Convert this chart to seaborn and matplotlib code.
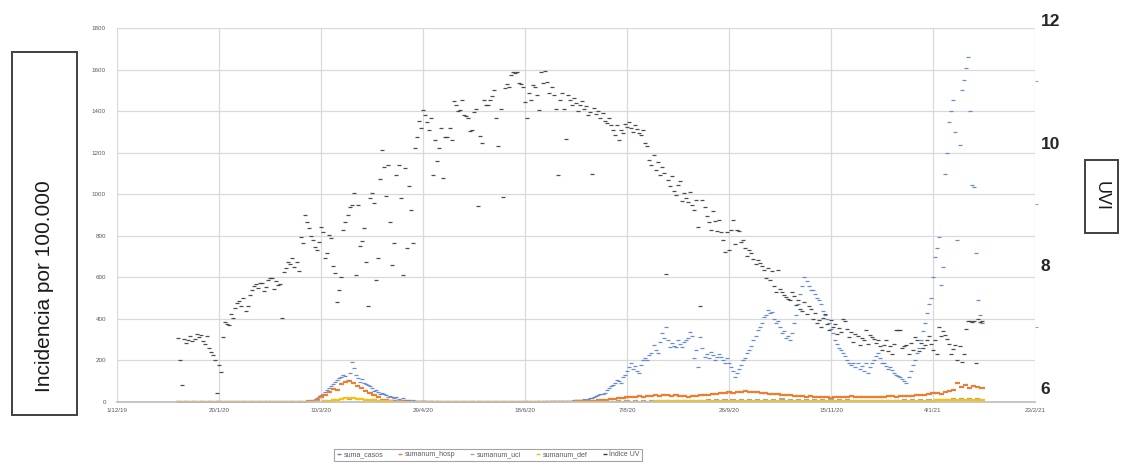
import matplotlib
matplotlib.use("Agg")
import matplotlib.pyplot as plt
from matplotlib.patches import Rectangle
from matplotlib.lines import Line2D
import pandas as pd
import seaborn as sns

# ---------------- data ----------------
start_date = "2019-12-31"

# Índice UV, daily (right axis)
indice_uv = [
    6.82, 6.46, 6.05, 6.80, 6.74, 6.78, 6.85, 6.77, 6.80, 6.88, 6.83, 6.86, 6.76, 6.72, 6.84,
    6.65, 6.58, 6.54, 6.46, 5.92, 6.38, 6.26, 6.83, 7.08, 7.05, 7.03, 7.20, 7.14, 7.30, 7.38,
    7.42, 7.34, 7.47, 7.25, 7.33, 7.52, 7.60, 7.66, 7.70, 7.63, 7.72, 7.71, 7.58, 7.65, 7.76,
    7.80, 7.79, 7.62, 7.74, 7.68, 7.70, 7.14, 7.89, 7.96, 8.05, 8.02, 8.12, 7.98, 8.05, 7.91,
    8.46, 8.36, 8.82, 8.70, 8.61, 8.48, 8.41, 8.30, 8.25, 8.38, 8.63, 8.54, 8.12, 8.20, 8.50,
    8.45, 7.99, 7.88, 7.40, 7.60, 7.81, 8.58, 8.70, 8.82, 8.95, 8.98, 9.18, 7.84, 8.98, 8.32,
    8.40, 8.61, 8.05, 7.34, 9.10, 9.18, 9.02, 7.76, 8.12, 9.40, 9.88, 9.60, 9.13, 9.64, 8.70,
    8.00, 8.36, 9.47, 9.64, 9.10, 7.84, 9.59, 8.28, 9.30, 8.90, 8.36, 9.91, 10.10, 10.35, 10.24,
    10.53, 10.45, 10.34, 10.21, 10.40, 9.47, 10.04, 9.70, 9.91, 10.24, 9.42, 10.09, 10.09, 10.24, 10.04,
    10.68, 10.62, 10.52, 10.53, 10.70, 10.45, 10.44, 10.40, 10.19, 10.21, 10.50, 10.55, 8.97, 10.11, 9.99,
    10.70, 10.62, 10.62, 10.70, 10.76, 10.86, 10.40, 9.95, 10.55, 9.11, 10.89, 10.96, 10.91, 11.10, 11.15,
    11.14, 11.15, 10.97, 10.96, 10.91, 10.66, 10.40, 10.81, 10.70, 10.94, 10.91, 10.78, 10.53, 11.16, 10.98,
    11.17, 10.99, 10.81, 10.91, 10.78, 10.55, 9.47, 10.70, 10.81, 10.55, 10.06, 10.78, 10.70, 10.62, 10.73,
    10.65, 10.52, 10.62, 10.68, 10.55, 10.60, 10.45, 10.50, 9.49, 10.56, 10.46, 10.52, 10.40, 10.48, 10.35,
    10.32, 10.40, 10.28, 10.20, 10.12, 10.28, 10.04, 10.21, 10.15, 10.30, 10.25, 10.33, 10.24, 10.18, 10.28,
    10.22, 10.15, 10.12, 10.21, 9.99, 9.95, 9.72, 9.64, 9.80, 9.55, 9.68, 9.47, 9.60, 9.50, 7.86,
    9.39, 9.30, 9.45, 9.21, 9.14, 9.31, 9.37, 9.05, 9.18, 9.10, 9.04, 9.20, 8.98, 8.90, 9.07,
    8.63, 7.34, 9.07, 8.95, 8.81, 8.70, 8.58, 8.88, 8.72, 8.56, 8.74, 8.55, 8.41, 8.22, 8.54,
    8.25, 8.58, 8.74, 8.35, 8.58, 8.56, 8.38, 8.41, 8.28, 8.15, 8.25, 8.20, 8.10, 8.02, 8.09,
    8.04, 7.99, 7.92, 7.80, 7.95, 7.76, 7.90, 7.66, 7.57, 7.92, 7.62, 7.56, 7.52, 7.48, 7.45,
    7.43, 7.56, 7.50, 7.35, 7.43, 7.29, 7.25, 7.40, 7.20, 7.34, 7.28, 7.13, 7.22, 7.06, 7.11,
    7.00, 7.14, 7.20, 7.04, 6.95, 7.11, 6.99, 7.04, 6.88, 6.98, 6.92, 7.13, 7.10, 6.97, 6.83,
    6.91, 6.75, 6.88, 6.85, 6.70, 6.82, 6.78, 6.95, 6.72, 6.86, 6.83, 6.80, 6.74, 6.78, 6.69,
    6.62, 6.70, 6.78, 6.60, 6.68, 6.55, 6.72, 6.95, 6.95, 6.95, 6.66, 6.68, 6.70, 6.55, 6.73,
    6.62, 6.83, 6.79, 6.60, 6.74, 6.65, 6.70, 6.78, 6.85, 6.72, 6.62, 6.78, 6.55, 6.99, 6.85,
    6.93, 6.86, 6.80, 6.72, 6.55, 6.64, 6.70, 6.46, 6.68, 6.42, 6.55, 6.96, 7.10, 7.10, 7.08,
    7.10, 6.40, 7.12, 7.08, 7.10,
]

# suma_casos, daily (left axis)
suma_casos = [
    0, 0, 0, 0, 0, 0, 0, 0, 0, 0, 0, 0, 0, 0, 0,
    0, 0, 0, 0, 0, 0, 0, 0, 0, 0, 0, 0, 0, 0, 0,
    0, 0, 0, 0, 0, 0, 0, 0, 0, 0, 0, 0, 0, 0, 0,
    0, 0, 0, 0, 0, 0, 0, 0, 0, 0, 1, 1, 1, 1, 1,
    1, 2, 2, 3, 4, 6, 8, 12, 18, 25, 32, 40, 48, 58, 66,
    75, 85, 96, 105, 115, 120, 130, 125, 106, 140, 192, 164, 130, 115, 96,
    110, 90, 85, 80, 75, 68, 55, 60, 48, 40, 45, 38, 35, 25, 30,
    22, 18, 24, 15, 12, 18, 10, 8, 12, 6, 8, 5, 6, 4, 5,
    3, 4, 3, 2, 3, 2, 2, 3, 2, 1, 2, 2, 1, 2, 1,
    1, 2, 1, 1, 1, 2, 1, 1, 1, 1, 1, 2, 1, 1, 1,
    1, 1, 1, 2, 1, 1, 1, 1, 2, 1, 1, 1, 1, 2, 1,
    1, 1, 2, 1, 1, 2, 1, 2, 2, 1, 2, 2, 3, 2, 2,
    3, 2, 3, 3, 4, 3, 4, 5, 4, 5, 6, 5, 7, 6, 8,
    8, 10, 9, 12, 14, 12, 16, 18, 20, 24, 28, 34, 40, 38, 45,
    58, 67, 75, 82, 90, 106, 100, 91, 120, 130, 150, 170, 188, 160, 175,
    150, 140, 180, 200, 210, 202, 225, 236, 274, 250, 236, 290, 332, 310, 361,
    300, 265, 284, 270, 265, 298, 280, 265, 290, 298, 310, 337, 320, 212, 250,
    168, 313, 260, 217, 230, 212, 240, 225, 202, 217, 230, 215, 200, 190, 210,
    188, 170, 150, 120, 140, 160, 180, 200, 210, 236, 250, 270, 300, 320, 346,
    360, 380, 409, 420, 443, 430, 433, 400, 380, 390, 360, 332, 340, 310, 320,
    298, 330, 380, 420, 470, 520, 560, 600, 580, 560, 540, 539, 520, 500, 491,
    470, 440, 420, 400, 380, 350, 330, 300, 280, 260, 250, 236, 220, 200, 190,
    180, 188, 170, 188, 160, 175, 150, 188, 140, 170, 188, 200, 220, 236, 210,
    190, 188, 175, 160, 170, 154, 140, 130, 125, 120, 110, 100, 91, 120, 150,
    180, 202, 236, 260, 300, 340, 380, 430, 470, 500, 600, 698, 741, 794, 563,
    650, 1097, 1200, 1347, 1400, 1453, 1300, 780, 1237, 1500, 1550, 1607, 1660, 1400, 1044,
    1035, 717, 491, 420, 380,
]

# sumanum_hosp, every 2 days (left axis)
sumanum_hosp = [
    0, 0, 0, 0, 0, 0, 0, 0, 0, 0, 0, 0, 0, 0, 0,
    0, 0, 0, 0, 0, 0, 0, 0, 0, 0, 0, 0, 0, 1, 1,
    1, 2, 3, 6, 12, 22, 35, 48, 62, 58, 85, 98, 100, 91, 78,
    67, 55, 42, 34, 22, 10, 8, 6, 4, 3, 3, 2, 2, 2, 1,
    1, 1, 1, 1, 1, 1, 1, 1, 1, 1, 1, 1, 1, 1, 1,
    1, 1, 1, 1, 1, 1, 1, 1, 1, 1, 1, 1, 1, 1, 1,
    1, 1, 1, 1, 1, 2, 2, 2, 3, 3, 4, 5, 6, 8, 10,
    12, 14, 15, 18, 20, 22, 25, 24, 28, 26, 30, 28, 32, 30, 34,
    32, 30, 34, 28, 30, 26, 28, 30, 32, 34, 36, 38, 40, 42, 45,
    48, 44, 50, 46, 52, 48, 50, 46, 44, 42, 40, 38, 40, 36, 34,
    32, 30, 28, 30, 26, 28, 24, 26, 22, 24, 20, 22, 24, 22, 26,
    28, 24, 26, 22, 24, 26, 25, 24, 26, 28, 27, 25, 28, 30, 28,
    30, 32, 34, 36, 40, 42, 45, 40, 48, 52, 58, 91, 72, 80, 67,
    75, 72, 66,
]

# sumanum_uci, every 4 days (left axis)
sumanum_uci = [
    0, 0, 0, 0, 0, 0, 0, 0, 0, 0,
    0, 0, 0, 0, 0, 1, 2, 4, 7, 10,
    13, 15, 14, 12, 9, 6, 4, 3, 2, 1,
    1, 1, 1, 0, 0, 0, 0, 0, 0, 0,
    0, 0, 0, 0, 0, 0, 0, 1, 1, 1,
    1, 1, 2, 2, 3, 3, 4, 4, 5, 5,
    5, 6, 6, 7, 7, 8, 8, 9, 9, 10,
    10, 11, 12, 12, 13, 12, 12, 11, 11, 10,
    9, 8, 8, 7, 7, 7, 6, 7, 7, 8,
    8, 9, 10, 11, 12, 14, 15, 16, 16,
]

# sumanum_def, every 2 days (left axis)
sumanum_def = [
    0, 0, 0, 0, 0, 0, 0, 0, 0, 0, 0, 0, 0, 0, 0,
    0, 0, 0, 0, 0, 0, 0, 0, 0, 0, 0, 0, 0, 0, 0,
    0, 0, 0, 1, 1, 2, 3, 5, 8, 11, 14, 17, 19, 18, 16,
    14, 12, 10, 8, 6, 5, 4, 3, 2, 2, 1, 1, 1, 1, 1,
    1, 1, 1, 0, 0, 0, 0, 0, 0, 0, 0, 0, 0, 0, 0,
    0, 0, 0, 0, 0, 0, 0, 0, 0, 0, 0, 0, 0, 0, 0,
    0, 0, 0, 0, 0, 0, 0, 0, 0, 0, 0, 0, 1, 1, 1,
    1, 1, 1, 1, 1, 1, 2, 2, 2, 2, 2, 2, 3, 3, 3,
    3, 3, 3, 3, 3, 3, 4, 4, 4, 4, 4, 4, 5, 5, 5,
    5, 5, 6, 6, 6, 6, 7, 7, 7, 6, 6, 6, 6, 5, 5,
    5, 5, 5, 5, 4, 4, 4, 4, 4, 4, 4, 4, 4, 4, 4,
    4, 4, 4, 4, 4, 4, 4, 4, 5, 5, 5, 5, 5, 5, 6,
    6, 6, 6, 7, 7, 7, 8, 8, 9, 9, 10, 10, 11, 11, 12,
    12, 12, 11,
]

series_names = ["suma_casos", "sumanum_hosp", "sumanum_uci", "sumanum_def", "Índice UV"]
series_colors = ["#5A80CC", "#ED7D31", "#A5A5A5", "#FFC000", "#3a3a3a"]

y_ticks = [0, 200, 400, 600, 800, 1000, 1200, 1400, 1600, 1800]
uv_ticks = [6, 8, 10, 12]
uv_minor = [7, 9, 11]
x_tick_dates = ["2019-12-01", "2020-01-20", "2020-03-10", "2020-04-29", "2020-06-18",
                "2020-08-07", "2020-09-26", "2020-11-15", "2021-01-04", "2021-02-23"]
x_tick_labels = ["1/12/19", "20/1/20", "10/3/20", "29/4/20", "18/6/20",
                 "7/8/20", "26/9/20", "15/11/20", "4/1/21", "23/2/21"]

# ---------------- build frames ----------------
def frame(vals, freq, name):
    return pd.DataFrame({
        "fecha": pd.date_range(start_date, periods=len(vals), freq=freq),
        "valor": vals,
        "serie": name,
    })

df_cases = frame(suma_casos, "D", series_names[0])
df_low = pd.concat([
    frame(sumanum_hosp, "2D", series_names[1]),
    frame(sumanum_uci, "4D", series_names[2]),
    frame(sumanum_def, "2D", series_names[3]),
], ignore_index=True)
df_uv = frame(indice_uv, "D", series_names[4])

# ---------------- figure ----------------
sns.set_theme(style="white")
plt.rcParams["font.family"] = ["Liberation Sans", "DejaVu Sans"]

W, H = 1131, 468
fig = plt.figure(figsize=(W / 100, H / 100), dpi=100)
fig.patch.set_facecolor("white")

ax = fig.add_axes([117 / W, 1 - 402 / H, 918 / W, 374 / H])
ax2 = fig.add_axes([117 / W, 1 - 402 / H, 918 / W, 382 / H])
ax2.patch.set_visible(False)

palette = dict(zip(series_names, series_colors))
sns.scatterplot(data=df_cases, x="fecha", y="valor", color=series_colors[0],
                marker="_", s=10, linewidth=0.9, alpha=0.9, legend=False, ax=ax)
sns.scatterplot(data=df_low, x="fecha", y="valor", hue="serie", palette=palette,
                marker="_", s=14, linewidth=1.6, legend=False, ax=ax)
sns.scatterplot(data=df_uv, x="fecha", y="valor", color=series_colors[4],
                marker="_", s=10, linewidth=0.9, alpha=0.9, legend=False, ax=ax2)

xmin, xmax = pd.Timestamp(x_tick_dates[0]), pd.Timestamp(x_tick_dates[-1])
for a in (ax, ax2):
    a.set_xlim(xmin, xmax)
    a.set_xlabel("")
    a.set_ylabel("")

ax.set_ylim(0, 1800)
ax.set_yticks(y_ticks)
ax.set_yticklabels([str(v) for v in y_ticks])
ax.set_xticks(pd.to_datetime(x_tick_dates))
ax.set_xticklabels(x_tick_labels)
ax.grid(True, color="#D9D9D9", linewidth=0.9)
ax.set_axisbelow(True)
for s in ax.spines.values():
    s.set_visible(False)
ax.spines["bottom"].set_visible(True)
ax.spines["bottom"].set_color("#BFBFBF")
ax.tick_params(axis="both", length=0, labelsize=4.5, colors="#595959")
ax.tick_params(axis="y", pad=8)
ax.tick_params(axis="x", pad=4)

ax2.set_ylim(5.7717, 12.0)
ax2.yaxis.tick_right()
ax2.set_yticks(uv_ticks)
ax2.set_yticks(uv_minor, minor=True)
ax2.set_yticklabels([str(v) for v in uv_ticks], fontsize=12.5, fontweight="bold", color="#262626")
ax2.tick_params(axis="y", which="major", length=0, pad=4)
ax2.tick_params(axis="y", which="minor", length=2.5, color="#A0A0A0", width=0.8, direction="out")
ax2.set_xticks([])
ax2.grid(False)
for s in ax2.spines.values():
    s.set_visible(False)

# axis title boxes
fig.patches.append(Rectangle((12 / W, 1 - 415 / H), 65 / W, 363 / H, transform=fig.transFigure,
                             fill=False, edgecolor="#404040", linewidth=1.4))
fig.text(44 / W, 1 - 286 / H, "Incidencia por 100.000", rotation=90, ha="center", va="center",
         fontsize=15, color="#1a1a1a")
fig.patches.append(Rectangle((1085 / W, 1 - 233 / H), 33 / W, 73 / H, transform=fig.transFigure,
                             fill=False, edgecolor="#404040", linewidth=1.4))
fig.text(1101 / W, 1 - 196 / H, "UVI", rotation=270, ha="center", va="center",
         fontsize=13, color="#1a1a1a")

# legend
handles = [Line2D([], [], linestyle="", marker="_", color=c, markersize=3, markeredgewidth=1)
           for c in series_colors]
leg = fig.legend(handles, series_names, loc="center", bbox_to_anchor=(488 / W, 1 - 455 / H),
                 ncol=5, fontsize=5, frameon=True, fancybox=False, edgecolor="#8c8c8c",
                 handlelength=0.8, handletextpad=0.3, columnspacing=2.0, borderpad=0.35)
leg.get_frame().set_linewidth(0.8)
for t in leg.get_texts():
    t.set_color("#595959")

fig.savefig("out.png", dpi=100, facecolor="white")
